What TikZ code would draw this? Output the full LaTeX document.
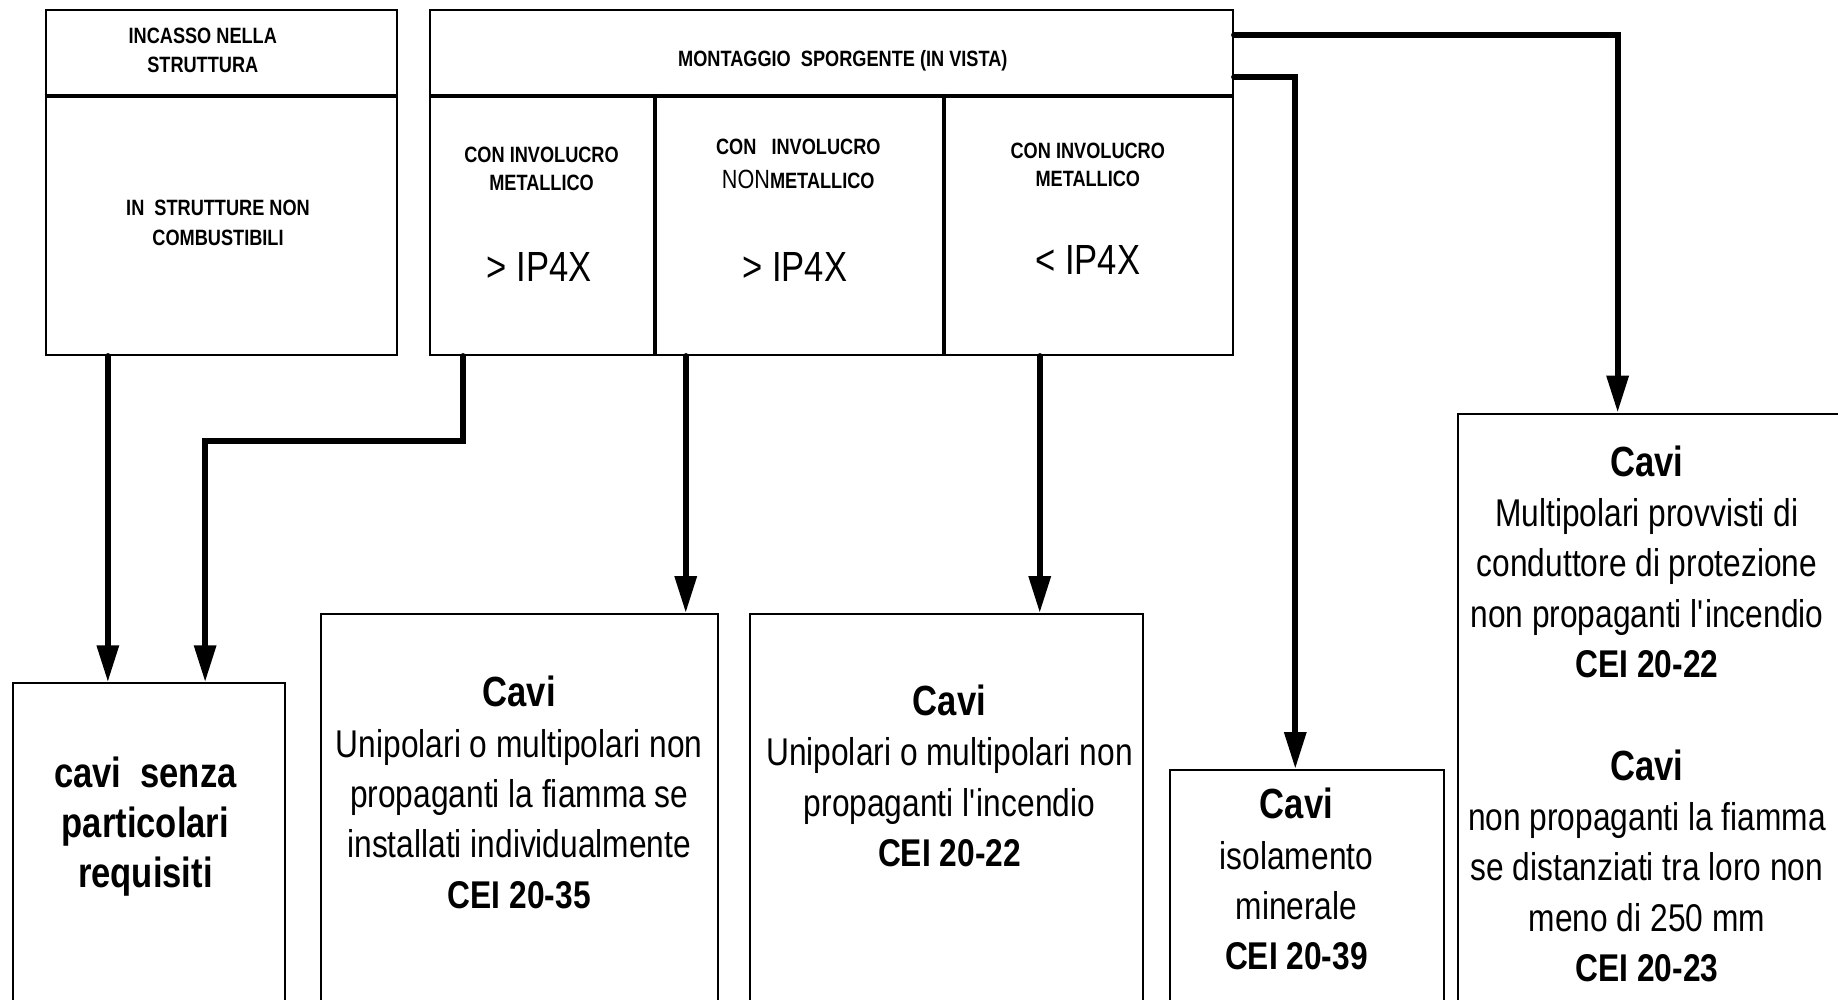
\documentclass[tikz,border=0pt]{standalone}
\usepackage{fontspec}
\setmainfont[FakeStretch=0.82]{Liberation Sans}
\usetikzlibrary{arrows.meta}
\def\pxu{0.011722cm}

\begin{document}
\begin{tikzpicture}[x=\pxu, y=-\pxu,
		box/.style={draw, line width=0.6pt, anchor=north west, inner sep=0pt},
		divider/.style={line width=1.1pt},
		arrow/.style={line width=1.7pt, line cap=round, -{Triangle[length=10.5pt, width=6pt]}},
		head/.style={font=\fontsize{6.3}{8}\selectfont\bfseries, align=center, inner sep=0pt},
		ipx/.style={font=\fontsize{12}{14}\selectfont, inner sep=0pt},
		cavi/.style={font=\fontsize{11}{14.3}\selectfont, align=center, inner sep=0pt}]
				\useasboundingbox (0,0) rectangle (1568,853);
				\clip (0,0) rectangle (1568,853);
				
				\node[box, minimum width=300*\pxu, minimum height=72*\pxu] (incasso) at (38,8) {};
				\node[box, minimum width=300*\pxu, minimum height=222*\pxu] (noncomb) at (38,80) {};
				\node[box, minimum width=685*\pxu, minimum height=72*\pxu] (montaggio) at (366,8) {};
				\node[box, minimum width=191*\pxu, minimum height=222*\pxu] (metmag) at (366,80) {};
				\node[box, minimum width=247*\pxu, minimum height=222*\pxu] (nonmet) at (557,80) {};
				\node[box, minimum width=247*\pxu, minimum height=222*\pxu] (metmin) at (804,80) {};
				\draw[divider] (incasso.south west) -- (incasso.south east);
				\draw[divider] (montaggio.south west) -- (montaggio.south east);
				\draw[line width=0.9pt] (metmag.north east) -- (metmag.south east);
				\draw[line width=0.9pt] (nonmet.north east) -- (nonmet.south east);
				
				\node[head] (incassotxt) at (173,43) {INCASSO NELLA\\STRUTTURA};
				\node[head, font=\fontsize{6.3}{8.7}\selectfont\bfseries] (noncombtxt) at (186,190) {IN\ \ STRUTTURE NON\\COMBUSTIBILI};
				\node[head] (montaggiotxt) at (719,52) {MONTAGGIO\ \ SPORGENTE (IN VISTA)};
				\node[head] (metmagtxt) at (462,144) {CON INVOLUCRO\\METALLICO};
				\node[head, font=\fontsize{6.3}{9.7}\selectfont\bfseries] (nonmettxt) at (681,140) {CON\ \ \ INVOLUCRO\\{\mdseries\fontsize{7.5}{9}\selectfont NON}METALLICO};
				\node[head] (metmintxt) at (928,141) {CON INVOLUCRO\\METALLICO};
				\node[ipx] (ipa) at (460,228) {> IP4X};
				\node[ipx] (ipb) at (678,228) {> IP4X};
				\node[ipx] (ipc) at (928,222) {< IP4X};
				
				\node[box, minimum width=232*\pxu, minimum height=320*\pxu] (senza) at (10,582) {};
				\node[box, minimum width=339*\pxu, minimum height=380*\pxu] (fiamma) at (273,523) {};
				\node[box, minimum width=335*\pxu, minimum height=380*\pxu] (incendio) at (639,523) {};
				\node[box, minimum width=234*\pxu, minimum height=250*\pxu] (minerale) at (997,656) {};
				\node[box, minimum width=400*\pxu, minimum height=550*\pxu] (protezione) at (1243,352) {};
				
				\node[cavi, font=\fontsize{12}{14.3}\selectfont\bfseries] (senzatxt) at (124,705) {cavi\ \ senza\\particolari\\requisiti};
				\node[cavi] (fiammatxt) at (443,676) {{\bfseries\large Cavi}\\Unipolari o multipolari non\\propaganti la fiamma se\\installati individualmente\\{\bfseries CEI 20-35}};
				\node[cavi] (incendiotxt) at (810,662) {{\bfseries\large Cavi}\\Unipolari o multipolari non\\propaganti l\textquotesingle incendio\\{\bfseries CEI 20-22}};
				\node[cavi] (mineraletxt) at (1106,750) {{\bfseries\large Cavi}\\isolamento\\minerale\\{\bfseries CEI 20-39}};
				\node[cavi] (protezionetxt) at (1405,609) {{\bfseries\large Cavi}\\Multipolari provvisti di\\conduttore di protezione\\non propaganti l\textquotesingle incendio\\{\bfseries CEI 20-22}\\[15pt]{\bfseries\large Cavi}\\non propaganti la fiamma\\se distanziati tra loro non\\meno di 250 mm\\{\bfseries CEI 20-23}};
				
				\coordinate (a1) at (92,0);
				\coordinate (a2) at (395,376);
				\coordinate (a3) at (175,376);
				\coordinate (a4) at (585,0);
				\coordinate (a5) at (887,0);
				\coordinate (a6) at (1380,30);
				\coordinate (a7) at (1105,66);
				\draw[arrow] (noncomb.south -| a1) -- (senza.north -| a1);
				\draw[arrow] (metmag.south -| a2) -- (a2) -- (a3) -- (senza.north -| a3);
				\draw[arrow] (nonmet.south -| a4) -- (fiamma.north -| a4);
				\draw[arrow] (metmin.south -| a5) -- (incendio.north -| a5);
				\draw[arrow] (montaggio.east |- a6) -- (a6) -- (protezione.north -| a6);
				\draw[arrow] (montaggio.east |- a7) -- (a7) -- (minerale.north -| a7);
\end{tikzpicture}
\end{document}
